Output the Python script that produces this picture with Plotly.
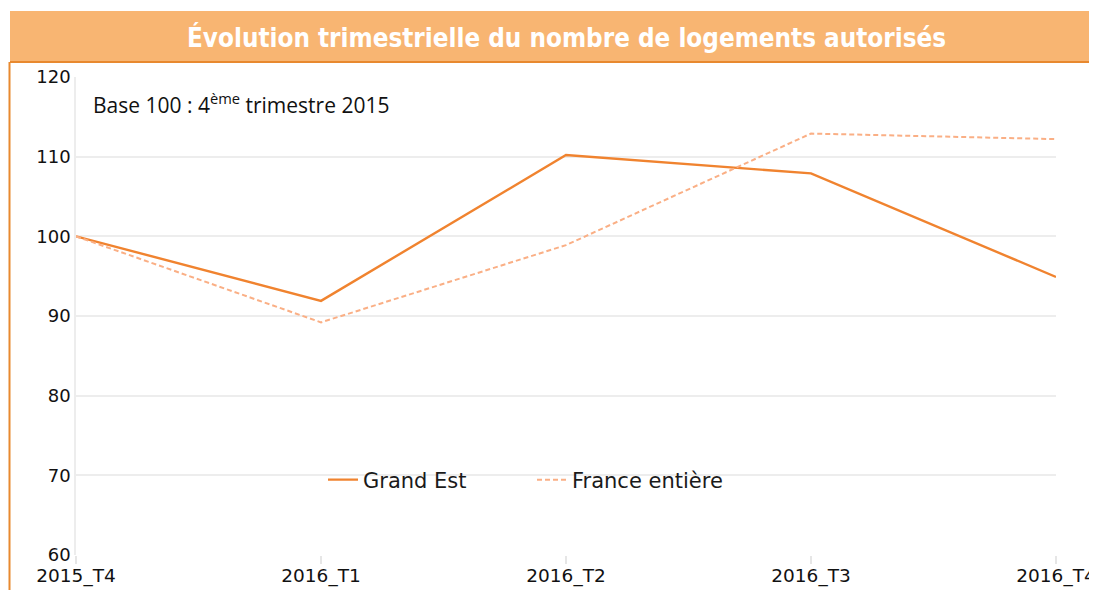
import plotly.graph_objects as go

categories = ["2015_T4", "2016_T1", "2016_T2", "2016_T3", "2016_T4"]
grand_est = [100, 91.9, 110.2, 107.9, 94.9]
france = [100, 89.2, 98.9, 112.9, 112.2]
y_ticks = [60, 70, 80, 90, 100, 110, 120]

# page has an 8px body margin; design in screenshot coordinates
OFF = 8
SL, SR, ST, SB = 76, 1056, 77, 555
W, H = 1097 - OFF, 590 - OFF
L, T = SL - OFF, ST - OFF
R, B = W - (SR - OFF), H - (SB - OFF)
pw, ph = SR - SL, SB - ST

def px(x):
    return (x - SL) / pw

def py(y):
    return (SB - y) / ph

fig = go.Figure()
fig.add_trace(go.Scatter(x=categories, y=grand_est, mode="lines", name="Grand Est",
                         line=dict(color="#F0832F", width=2.4)))
fig.add_trace(go.Scatter(x=categories, y=france, mode="lines", name="France entière",
                         line=dict(color="#FAAF85", width=2, dash="5px,3px")))

fig.update_layout(
    width=W, height=H,
    margin=dict(l=L, r=R, t=T, b=B, autoexpand=False),
    paper_bgcolor="white", plot_bgcolor="white",
    showlegend=True,
    legend=dict(orientation="h", x=px(323), y=py(480), xanchor="left", yanchor="middle",
                font=dict(family="DejaVu Sans", size=21, color="#1a1a1a"),
                bgcolor="rgba(0,0,0,0)", entrywidth=164, entrywidthmode="pixels"),
    xaxis=dict(range=[0, 4], showgrid=False, showline=False, zeroline=False, automargin=False,
               ticks="outside", ticklen=8, tickcolor="#E6E6E6", tickwidth=1.5,
               ticklabelstandoff=-4,
               tickfont=dict(family="DejaVu Sans", size=18.5, color="#111"),
               tickvals=categories, ticktext=categories),
    yaxis=dict(range=[60, 120], tickvals=y_ticks, showgrid=True, gridcolor="#EDEDED", gridwidth=1.5,
               zeroline=False, showline=True, linecolor="#EDEDED", linewidth=1.5, automargin=False,
               ticks="outside", ticklen=0, tickcolor="rgba(0,0,0,0)",
               tickfont=dict(family="DejaVu Sans", size=18, color="#111")),
    shapes=[
        dict(type="rect", xref="paper", yref="paper", x0=px(10), x1=px(1100), y0=py(62), y1=py(11),
             fillcolor="#F8B572", line=dict(width=0), layer="below"),
        dict(type="line", xref="paper", yref="paper", x0=px(10), x1=px(1100), y0=py(62), y1=py(62),
             line=dict(color="#E8892F", width=2)),
        dict(type="line", xref="paper", yref="paper", x0=px(9.5), x1=px(9.5), y0=py(62), y1=py(600),
             line=dict(color="#E8892F", width=2)),
    ],
    annotations=[
        dict(text="<b>Évolution trimestrielle du nombre de logements autorisés</b>", xref="paper", yref="paper",
             x=px(566), y=py(37), xanchor="center", yanchor="middle", showarrow=False,
             font=dict(family="DejaVu Sans Condensed", size=25.8, color="white")),
        dict(text="Base 100 : 4<sup>ème</sup> trimestre 2015", xref="paper", yref="paper",
             x=px(91), y=py(104), xanchor="left", yanchor="middle", showarrow=False,
             font=dict(family="Open Sans", size=21, color="#111")),
    ],
)

fig.write_html("out.html")
